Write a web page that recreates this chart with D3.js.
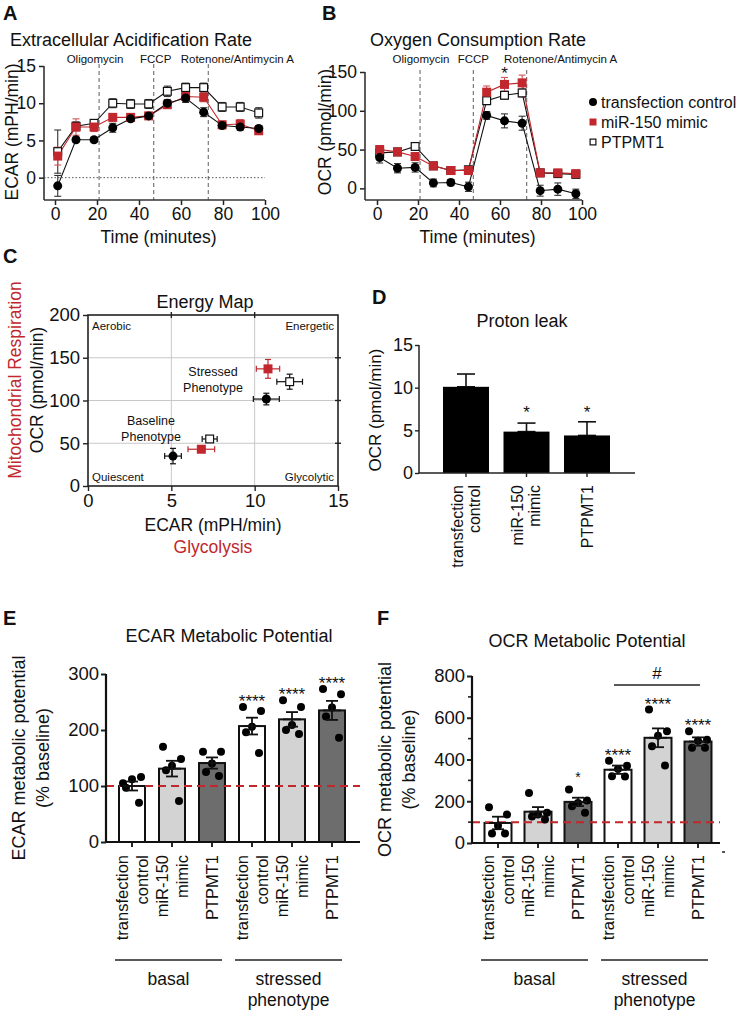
<!DOCTYPE html>
<html><head><meta charset="utf-8">
<script src="https://cdn.jsdelivr.net/npm/d3@7"></script>
<style>
body{margin:0;background:#fff}
svg{display:block}
text{font-family:"Liberation Sans",Arial,Helvetica,sans-serif;fill:#111}
</style>
</head><body>
<svg id="fig" width="744" height="1013"></svg>
<script>
// ---------------- DATA ----------------
const seriesNames = ["transfection control", "miR-150 mimic", "PTPMT1"];
const timeMin = [1.3, 10, 18.6, 27.5, 36, 44.6, 53.5, 62.2, 70.8, 79.6, 88.2, 97];
const injectionTimes = [21, 47, 73];
const injectionLabels = ["Oligomycin", "FCCP", "Rotenone/Antimycin A"];
const timeTicks = [0, 20, 40, 60, 80, 100];

const ecarControl    = [-1.1, 5.1, 5.1, 6.7, 7.9, 8.3, 10.0, 10.7, 8.8, 7.0, 6.8, 6.6];
const ecarControlErr = [1.4, 0.3, 0.3, 0.6, 0.3, 0.3, 0.5, 0.6, 0.6, 0.4, 0.4, 0.4];
const ecarMimic      = [2.9, 6.8, 6.8, 8.1, 8.1, 8.3, 9.8, 10.9, 10.8, 7.1, 7.2, 6.3];
const ecarMimicErr   = [1.2, 1.1, 0.6, 0.5, 0.4, 0.3, 0.5, 0.6, 0.6, 0.5, 0.6, 0.4];
const ecarPtpmt1     = [3.5, 6.9, 7.3, 10.0, 9.9, 9.9, 11.6, 12.1, 12.1, 9.5, 9.5, 8.7];
const ecarPtpmt1Err  = [2.9, 0.6, 0.4, 0.6, 0.6, 0.6, 0.7, 0.6, 0.6, 0.6, 0.6, 0.7];
const ecarTicks = [0, 5, 10, 15];

const ocrControl    = [39.7, 26, 27, 7, 7.5, 2, 94, 87, 84, -3, -1, -7];
const ocrControlErr = [7, 6, 6, 5, 4, 6, 5, 9, 9, 7, 8, 6];
const ocrMimic      = [50, 47, 41, 29, 23, 23, 124, 134, 136, 20, 20, 19];
const ocrMimicErr   = [5, 4, 5, 4, 4, 5, 8, 9, 10, 4, 4, 4];
const ocrPtpmt1     = [45.7, 47, 54, 29, 23, 24, 113, 120, 123, 20, 19, 18];
const ocrPtpmt1Err  = [4, 3, 3, 3, 3, 3, 5, 5, 5, 3, 3, 3];
const ocrTicks = [0, 50, 100, 150];

const mapBaselineEcar    = [5.1, 6.8, 7.3];
const mapBaselineEcarErr = [0.5, 0.8, 0.45];
const mapBaselineOcr     = [35, 43, 55];
const mapBaselineOcrErr  = [9, 3.5, 2.5];
const mapStressedEcar    = [10.7, 10.8, 12.1];
const mapStressedEcarErr = [0.78, 0.7, 0.77];
const mapStressedOcr     = [101.7, 137, 122];
const mapStressedOcrErr  = [6.8, 11, 8.8];
const mapXTicks = [0, 5, 10, 15];
const mapYTicks = [0, 50, 100, 150, 200];
const mapCornerLabels = ["Aerobic", "Energetic", "Quiescent", "Glycolytic"];

const leakCategories = [["transfection", "control"], ["miR-150", "mimic"], ["PTPMT1"]];
const leakValues = [10.1, 4.85, 4.4];
const leakErr    = [1.5, 1.0, 1.6];
const leakSig    = ["", "*", "*"];
const leakTicks  = [0, 5, 10, 15];

const potCategories = [["transfection", "control"], ["miR-150", "mimic"], ["PTPMT1"],
                       ["transfection", "control"], ["miR-150", "mimic"], ["PTPMT1"]];
const potGroups = ["basal", "stressed\nphenotype"];
const ecarPotMeans = [100, 131, 141, 207, 219, 235];
const ecarPotSem   = [8, 14, 10, 15, 13, 17];
const ecarPotDots  = [[105, 116, 112, 97, 70], [170, 148, 136, 128, 73], [161, 161, 140, 125, 118],
                      [241, 234, 206, 196, 159], [253, 241, 209, 200, 193], [273, 264, 240, 224, 186]];
const ecarPotSig   = ["", "", "", "****", "****", "****"];
const ecarPotTicks = [0, 100, 200, 300];

const ocrPotMeans = [96, 150, 197, 351, 504, 486];
const ocrPotSem   = [30, 22, 20, 20, 45, 20];
const ocrPotDots  = [[171, 136, 83, 45, 45], [240, 145, 136, 127, 112], [256, 204, 192, 176, 145],
                     [394, 370, 355, 320, 318], [639, 535, 514, 463, 371], [535, 495, 490, 456, 456]];
const ocrPotSig   = ["", "", "*", "****", "****", "****"];
const ocrPotTicks = [0, 200, 400, 600, 800];

// ---------------- STYLE ----------------
const RED = "#c1272d";
const barFills = ["#ffffff", "#d3d3d3", "#6d6d6d", "#ffffff", "#d3d3d3", "#6d6d6d"];
const svg = d3.select("#fig");

function txt(g, x, y, s, size, opts = {}) {
  const t = g.append("text").attr("x", x).attr("y", y).text(s)
    .attr("font-size", size).attr("text-anchor", opts.anchor || "start");
  if (opts.fill) t.style("fill", opts.fill);
  if (opts.weight) t.attr("font-weight", opts.weight);
  if (opts.rotate) t.attr("transform", `rotate(${opts.rotate},${x},${y})`);
  return t;
}
function styleAxis(g, w, fs) {
  g.selectAll("path.domain").remove();
  g.selectAll(".tick line").attr("stroke", "#222").attr("stroke-width", w);
  g.selectAll(".tick text").attr("font-size", fs).style("font-family", '"Liberation Sans",Arial,sans-serif').attr("fill", "#111");
}
function errV(g, x, y1, y2, cap, color, w) {
  g.append("line").attr("x1", x).attr("x2", x).attr("y1", y1).attr("y2", y2).attr("stroke", color).attr("stroke-width", w);
  g.append("line").attr("x1", x - cap).attr("x2", x + cap).attr("y1", y1).attr("y2", y1).attr("stroke", color).attr("stroke-width", w);
  g.append("line").attr("x1", x - cap).attr("x2", x + cap).attr("y1", y2).attr("y2", y2).attr("stroke", color).attr("stroke-width", w);
}
function errH(g, y, x1, x2, cap, color, w) {
  g.append("line").attr("x1", x1).attr("x2", x2).attr("y1", y).attr("y2", y).attr("stroke", color).attr("stroke-width", w);
  g.append("line").attr("x1", x1).attr("x2", x1).attr("y1", y - cap).attr("y2", y + cap).attr("stroke", color).attr("stroke-width", w);
  g.append("line").attr("x1", x2).attr("x2", x2).attr("y1", y - cap).attr("y2", y + cap).attr("stroke", color).attr("stroke-width", w);
}
function marker(g, kind, x, y, s) {
  if (kind === 0) g.append("circle").attr("cx", x).attr("cy", y).attr("r", s / 2).attr("fill", "#000");
  else if (kind === 1) g.append("rect").attr("x", x - s / 2).attr("y", y - s / 2).attr("width", s).attr("height", s).attr("fill", RED);
  else g.append("rect").attr("x", x - s / 2 + 0.6).attr("y", y - s / 2 + 0.6).attr("width", s - 1.2).attr("height", s - 1.2).attr("fill", "#fff").attr("stroke", "#111").attr("stroke-width", 1.2);
}
function panelLabel(x, y, s) { txt(svg, x, y, s, 20, { weight: "bold" }); }

// ---------------- TIME-COURSE PANELS (A, B) ----------------
function timeCourse(cfg) {
  const g = svg.append("g");
  const x = d3.scaleLinear().domain([0, 100]).range(cfg.xr);
  const y = d3.scaleLinear().domain(cfg.yd).range([200, cfg.yTop]);
  injectionTimes.forEach((t, i) => {
    g.append("line").attr("x1", x(t)).attr("x2", x(t)).attr("y1", cfg.yTop - 2).attr("y2", 200)
      .attr("stroke", "#777").attr("stroke-width", 1.2).attr("stroke-dasharray", "4,3");
    txt(g, x(t) + cfg.labOff[i], 63, injectionLabels[i], 11.5, { anchor: "middle" });
  });
  if (cfg.zeroLine) g.append("line").attr("x1", cfg.axisX).attr("x2", x(100)).attr("y1", y(0)).attr("y2", y(0))
    .attr("stroke", "#555").attr("stroke-width", 1).attr("stroke-dasharray", "1.5,2");
  const ya = g.append("g").attr("transform", `translate(${cfg.axisX},0)`).call(d3.axisLeft(y).tickValues(cfg.yTicks).tickSize(5).tickPadding(3));
  styleAxis(ya, 1.5, 17.5);
  g.append("line").attr("x1", cfg.axisX).attr("x2", cfg.axisX).attr("y1", y(cfg.yd[1])).attr("y2", 200).attr("stroke", "#333").attr("stroke-width", 1.6);
  const xa = g.append("g").attr("transform", "translate(0,200)").call(d3.axisBottom(x).tickValues(timeTicks).tickSize(5).tickPadding(3));
  styleAxis(xa, 1.5, 17.5);
  g.append("line").attr("x1", cfg.axisX).attr("x2", x(100)).attr("y1", 200).attr("y2", 200).attr("stroke", "#333").attr("stroke-width", 1.6);
  txt(g, (cfg.axisX + x(100)) / 2 + 4, 243, "Time (minutes)", 17.5, { anchor: "middle" });
  txt(g, cfg.yLabX, 132, cfg.yLabel, 17.5, { anchor: "middle", rotate: -90 });
  txt(g, cfg.titleX, 46, cfg.title, 18, { anchor: "middle" });
  const order = [2, 1, 0];
  order.forEach(k => {
    const vals = cfg.series[k], errs = cfg.errs[k];
    const col = k === 1 ? RED : "#111";
    g.append("path").datum(vals).attr("fill", "none").attr("stroke", col).attr("stroke-width", 1.1)
      .attr("d", d3.line().x((d, i) => x(timeMin[i])).y(d => y(d)));
    vals.forEach((v, i) => errV(g, x(timeMin[i]), y(v + errs[i]), y(v - errs[i]), 3.5, k === 1 ? "#d0575b" : "#333", 1.1));
  });
  order.forEach(k => cfg.series[k].forEach((v, i) => marker(g, k, x(timeMin[i]), y(v), 9)));
  return { g, x, y };
}

panelLabel(3, 20, "A");
timeCourse({
  xr: [55, 265], yd: [-3, 15], yTop: 66, axisX: 44, yTicks: ecarTicks, zeroLine: true,
  labOff: [-4, 2, 29], yLabel: "ECAR (mPH/min)", yLabX: 18, title: "Extracellular Acidification Rate", titleX: 131,
  series: [ecarControl, ecarMimic, ecarPtpmt1], errs: [ecarControlErr, ecarMimicErr, ecarPtpmt1Err]
});

panelLabel(322, 20, "B");
const B = timeCourse({
  xr: [377, 582], yd: [-15, 150], yTop: 72, axisX: 365, yTicks: ocrTicks, zeroLine: false,
  labOff: [1, 0, 34], yLabel: "OCR (pmol/min)", yLabX: 331, title: "Oxygen Consumption Rate", titleX: 478,
  series: [ocrControl, ocrMimic, ocrPtpmt1], errs: [ocrControlErr, ocrMimicErr, ocrPtpmt1Err]
});
txt(B.g, B.x(timeMin[7]), 79, "*", 17, { anchor: "middle" });

seriesNames.forEach((n, i) => {
  const ly = 102 + i * 20;
  if (i === 0) marker(svg, 0, 593, ly, 8);
  else if (i === 1) marker(svg, 1, 593, ly, 7);
  else marker(svg, 2, 593, ly, 7);
  txt(svg, 601, ly + 5.5, n, 16);
});

// ---------------- ENERGY MAP (C) ----------------
panelLabel(3, 263, "C");
(function () {
  const g = svg.append("g");
  const x = d3.scaleLinear().domain([0, 15]).range([88, 338]);
  const y = d3.scaleLinear().domain([0, 200]).range([486, 315]);
  [5, 10].forEach(v => g.append("line").attr("x1", x(v)).attr("x2", x(v)).attr("y1", y(0)).attr("y2", y(200)).attr("stroke", "#c8c8c8").attr("stroke-width", 1));
  [50, 100, 150].forEach(v => g.append("line").attr("x1", x(0)).attr("x2", x(15)).attr("y1", y(v)).attr("y2", y(v)).attr("stroke", "#c8c8c8").attr("stroke-width", 1));
  g.append("rect").attr("x", x(0)).attr("y", y(200)).attr("width", x(15) - x(0)).attr("height", y(0) - y(200))
    .attr("fill", "none").attr("stroke", "#222").attr("stroke-width", 1.6);
  const ya = g.append("g").attr("transform", `translate(${x(0)},0)`).call(d3.axisLeft(y).tickValues(mapYTicks).tickSize(5).tickPadding(3));
  styleAxis(ya, 1.4, 18.5);
  const xa = g.append("g").attr("transform", `translate(0,${y(0)})`).call(d3.axisBottom(x).tickValues(mapXTicks).tickSize(5).tickPadding(3));
  styleAxis(xa, 1.4, 18.5);
  [50, 100, 150].forEach(v => g.append("line").attr("x1", x(15) - 3).attr("x2", x(15) + 3).attr("y1", y(v)).attr("y2", y(v)).attr("stroke", "#222").attr("stroke-width", 1.4));
  [5, 10].forEach(v => g.append("line").attr("x1", x(v)).attr("x2", x(v)).attr("y1", y(200) - 3).attr("y2", y(200) + 3).attr("stroke", "#222").attr("stroke-width", 1.4));
  txt(g, 92, 330, mapCornerLabels[0], 11.5);
  txt(g, 334, 330, mapCornerLabels[1], 11.5, { anchor: "end" });
  txt(g, 92, 481, mapCornerLabels[2], 11.5);
  txt(g, 334, 481, mapCornerLabels[3], 11.5, { anchor: "end" });
  txt(g, 205, 308, "Energy Map", 18, { anchor: "middle" });
  txt(g, 213, 531, "ECAR (mPH/min)", 17.5, { anchor: "middle" });
  txt(g, 213, 553, "Glycolysis", 17.5, { anchor: "middle", fill: RED });
  txt(g, 43, 390, "OCR (pmol/min)", 17.5, { anchor: "middle", rotate: -90 });
  txt(g, 21, 380, "Mitochondrial Respiration", 17.5, { anchor: "middle", rotate: -90, fill: RED });
  txt(g, 213, 376, "Stressed", 12.5, { anchor: "middle" });
  txt(g, 213, 392, "Phenotype", 12.5, { anchor: "middle" });
  txt(g, 151, 425, "Baseline", 12.5, { anchor: "middle" });
  txt(g, 151, 441, "Phenotype", 12.5, { anchor: "middle" });
  [[mapBaselineEcar, mapBaselineEcarErr, mapBaselineOcr, mapBaselineOcrErr],
   [mapStressedEcar, mapStressedEcarErr, mapStressedOcr, mapStressedOcrErr]].forEach(([ex, exe, oy, oye]) => {
    [0, 1, 2].forEach(k => {
      const col = k === 1 ? RED : "#111";
      errH(g, y(oy[k]), x(ex[k] - exe[k]), x(ex[k] + exe[k]), 3, col, 1.2);
      errV(g, x(ex[k]), y(oy[k] + oye[k]), y(oy[k] - oye[k]), 3, col, 1.2);
    });
    [0, 1, 2].forEach(k => marker(g, k, x(ex[k]), y(oy[k]), 9));
  });
})();

// ---------------- PROTON LEAK (D) ----------------
panelLabel(372, 304, "D");
(function () {
  const g = svg.append("g");
  const x = d3.scalePoint().domain(d3.range(3)).range([466, 587]);
  const y = d3.scaleLinear().domain([0, 15]).range([473, 345]);
  const bw = 46;
  leakValues.forEach((v, i) => {
    errV(g, x(i), y(v + leakErr[i]), y(v), 9, "#111", 1.6);
    g.append("rect").attr("x", x(i) - bw / 2).attr("y", y(v)).attr("width", bw).attr("height", y(0) - y(v)).attr("fill", "#000");
    if (leakSig[i]) txt(g, x(i), 418, leakSig[i], 17, { anchor: "middle" });
  });
  const ya = g.append("g").attr("transform", "translate(419,0)").call(d3.axisLeft(y).tickValues(leakTicks).tickSize(4).tickPadding(2));
  styleAxis(ya, 1.4, 18);
  g.append("line").attr("x1", 419).attr("x2", 419).attr("y1", y(15)).attr("y2", y(0)).attr("stroke", "#222").attr("stroke-width", 1.5);
  g.append("line").attr("x1", 419).attr("x2", 635).attr("y1", y(0)).attr("y2", y(0)).attr("stroke", "#222").attr("stroke-width", 1.5);
  d3.range(3).forEach(i => g.append("line").attr("x1", x(i)).attr("x2", x(i)).attr("y1", y(0)).attr("y2", y(0) + 4).attr("stroke", "#222").attr("stroke-width", 1.4));
  leakCategories.forEach((lines, i) => {
    lines.forEach((s, j) => {
      const lx = x(i) + (lines.length === 2 ? (j === 0 ? -9 : 8) : 0);
      txt(g, lx, 485, s, 16, { anchor: "end", rotate: -90 }).attr("dy", "0.35em");
    });
  });
  txt(g, 522, 327, "Proton leak", 18, { anchor: "middle" });
  txt(g, 381, 410, "OCR (pmol/min)", 17, { anchor: "middle", rotate: -90 });
})();

// ---------------- METABOLIC POTENTIAL (E, F) ----------------
function potential(cfg) {
  const g = svg.append("g");
  const x = d3.scalePoint().domain(d3.range(6)).range(cfg.xr);
  const y = d3.scaleLinear().domain(cfg.yd).range([cfg.y0, cfg.yTop]);
  const bw = cfg.bw;
  cfg.means.forEach((v, i) => {
    g.append("rect").attr("x", x(i) - bw / 2).attr("y", y(v)).attr("width", bw).attr("height", y(0) - y(v))
      .attr("fill", barFills[i]).attr("stroke", "#111").attr("stroke-width", 2);
  });
  g.append("line").attr("x1", cfg.axisX).attr("x2", cfg.xEnd).attr("y1", y(100)).attr("y2", y(100))
    .attr("stroke", RED).attr("stroke-width", 2).attr("stroke-dasharray", "8,5");
  cfg.means.forEach((v, i) => {
    const offs = [-9, 9, 0, -6, 7];
    cfg.dots[i].forEach((d, j) => g.append("circle").attr("cx", x(i) + offs[j]).attr("cy", y(d)).attr("r", 4).attr("fill", "#000"));
    errV(g, x(i), y(v + cfg.sem[i]), y(v - cfg.sem[i]), 6, "#111", 1.8);
    g.append("line").attr("x1", x(i) - 9).attr("x2", x(i) + 9).attr("y1", y(v)).attr("y2", y(v)).attr("stroke", "#111").attr("stroke-width", 1.8);
    if (cfg.sig[i]) {
      const top = Math.max(v + cfg.sem[i], d3.max(cfg.dots[i]));
      const small = cfg.sig[i] === "*";
      txt(g, x(i), y(top) - 8 + (small ? 0 : 8), cfg.sig[i], small ? 14 : 17, { anchor: "middle" });
    }
  });
  const ya = g.append("g").attr("transform", `translate(${cfg.axisX},0)`).call(d3.axisLeft(y).tickValues(cfg.ticks).tickSize(5).tickPadding(2));
  styleAxis(ya, 2, 18.5);
  if (cfg.minor) cfg.minor.forEach(v => g.append("line").attr("x1", cfg.axisX - 4).attr("x2", cfg.axisX).attr("y1", y(v)).attr("y2", y(v)).attr("stroke", "#222").attr("stroke-width", 1.6));
  g.append("line").attr("x1", cfg.axisX).attr("x2", cfg.axisX).attr("y1", y(cfg.yd[1])).attr("y2", y(0)).attr("stroke", "#111").attr("stroke-width", 2.2);
  g.append("line").attr("x1", cfg.axisX).attr("x2", cfg.xEnd).attr("y1", y(0)).attr("y2", y(0)).attr("stroke", "#111").attr("stroke-width", 2.2);
  d3.range(6).forEach(i => g.append("line").attr("x1", x(i)).attr("x2", x(i)).attr("y1", y(0)).attr("y2", y(0) + 5).attr("stroke", "#111").attr("stroke-width", 1.8));
  potCategories.forEach((lines, i) => {
    lines.forEach((s, j) => {
      const lx = x(i) + (lines.length === 2 ? (j === 0 ? -10 : 10) : 0);
      txt(g, lx, 855, s, 16.5, { anchor: "end", rotate: -90 }).attr("dy", "0.35em");
    });
  });
  [[0, 2], [3, 5]].forEach(([a, b], k) => {
    g.append("line").attr("x1", x(a) - 17).attr("x2", x(b) + 10).attr("y1", 960).attr("y2", 960).attr("stroke", "#222").attr("stroke-width", 1.4);
    const cx = (x(a) - 17 + x(b) + 10) / 2;
    potGroups[k].split("\n").forEach((s, j) => txt(g, cx, 985 + j * 21, s, 17.5, { anchor: "middle" }));
  });
  txt(g, cfg.titleX, cfg.titleY, cfg.title, 18, { anchor: "middle" });
  const yc = (y(cfg.yd[1]) + y(0)) / 2;
  txt(g, cfg.yLabX, yc, cfg.yLabel, 18, { anchor: "middle", rotate: -90 });
  txt(g, cfg.yLabX + 24, yc, "(% baseline)", 18, { anchor: "middle", rotate: -90 });
  return { g, x, y };
}

panelLabel(3, 625, "E");
potential({
  xr: [132, 332], yd: [0, 300], y0: 842, yTop: 674, axisX: 106, xEnd: 360, bw: 26,
  means: ecarPotMeans, sem: ecarPotSem, dots: ecarPotDots, sig: ecarPotSig, ticks: ecarPotTicks,
  title: "ECAR Metabolic Potential", titleX: 229, titleY: 642, yLabel: "ECAR metabolic potential", yLabX: 25
});

panelLabel(377, 625, "F");
const F = potential({
  xr: [498, 698], yd: [0, 800], y0: 843, yTop: 676, axisX: 472, xEnd: 720, bw: 27,
  means: ocrPotMeans, sem: ocrPotSem, dots: ocrPotDots, sig: ocrPotSig, ticks: ocrPotTicks, minor: [100, 300, 500, 700],
  title: "OCR Metabolic Potential", titleX: 587, titleY: 647, yLabel: "OCR metabolic potential", yLabX: 391
});
F.g.append("line").attr("x1", F.x(3) - 4).attr("x2", F.x(5) + 2).attr("y1", 685).attr("y2", 685).attr("stroke", "#222").attr("stroke-width", 1.6);
txt(F.g, (F.x(3) + F.x(5)) / 2 - 1, 679, "#", 17, { anchor: "middle" });
F.g.append("line").attr("x1", 722).attr("x2", 725).attr("y1", 852).attr("y2", 852).attr("stroke", "#222").attr("stroke-width", 1.5);
</script>
</body></html>
